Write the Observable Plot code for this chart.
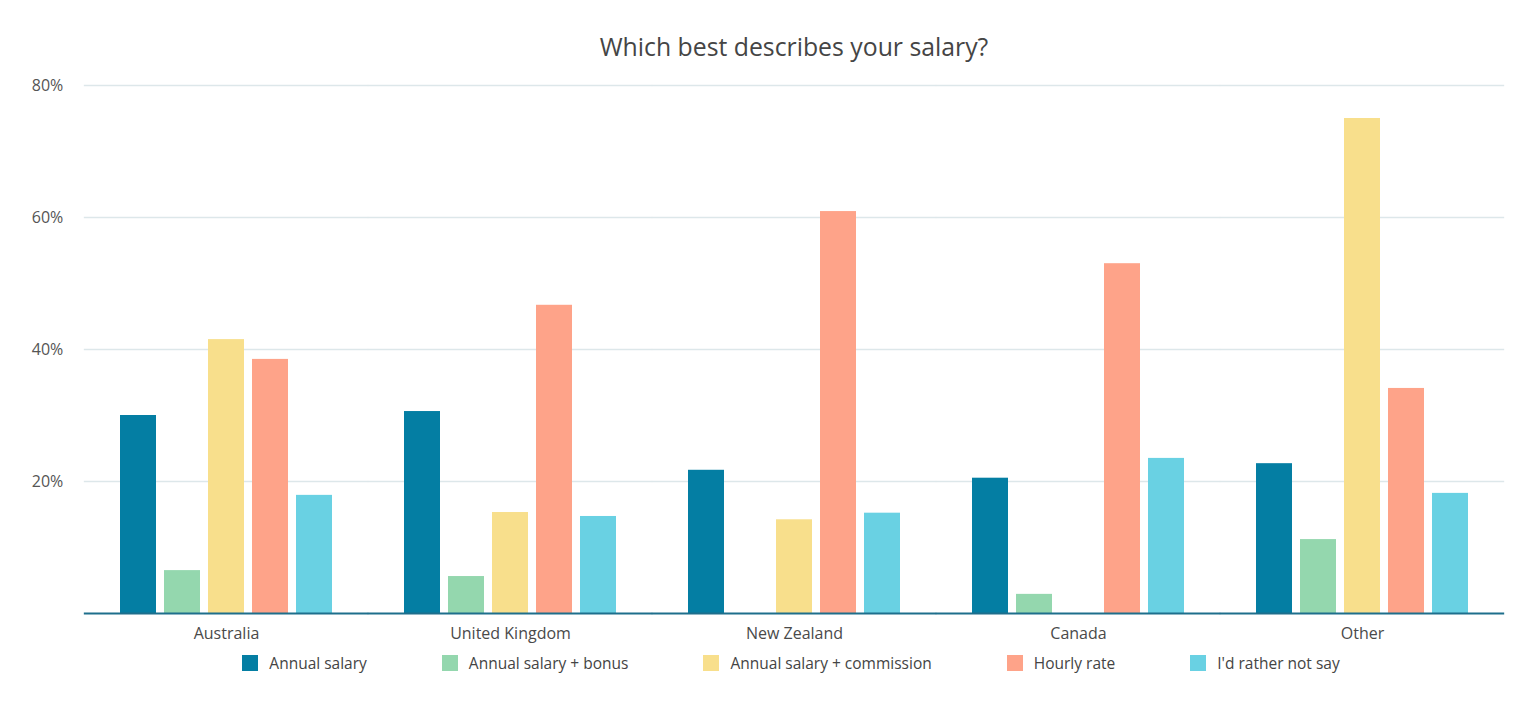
<!DOCTYPE html>
<html>
<head>
<meta charset="utf-8">
<script src="https://cdn.jsdelivr.net/npm/d3@7"></script>
<script src="https://cdn.jsdelivr.net/npm/@observablehq/plot@0.6"></script>
<style>
  html, body { margin: 0; padding: 0; background: #fff; }
  #wrap { position: relative; width: 1536px; height: 704px; font-family: "Open Sans", sans-serif; }
  #title { position: absolute; top: 30px; left: 83px; width: 1422px; text-align: center; font-size: 24.8px; line-height: 32px; color: #454545; }
  #chart { position: absolute; top: 70px; left: 0; }
  #legend { position: absolute; top: 650px; left: 80px; width: 1422px; display: flex; justify-content: center; gap: 75px; font-size: 15.5px; line-height: 26px; color: #444; }
  .item { display: flex; align-items: center; }
  .sw { width: 16px; height: 16px; margin-right: 11px; }
</style>
</head>
<body>
<div id="wrap">
  <div id="title">Which best describes your salary?</div>
  <div id="chart"></div>
  <div id="legend"></div>
</div>
<script>
const countries = ["Australia", "United Kingdom", "New Zealand", "Canada", "Other"];
const seriesNames = ["Annual salary", "Annual salary + bonus", "Annual salary + commission", "Hourly rate", "I'd rather not say"];
const seriesColors = ["#047ea3", "#94d7ae", "#f8df8c", "#fea389", "#69d1e3"];
const annualSalary = [30.0, 30.6, 21.7, 20.5, 22.7];
const annualSalaryBonus = [6.5, 5.6, 0, 2.9, 11.2];
const annualSalaryCommission = [41.5, 15.3, 14.2, 0, 75.0];
const hourlyRate = [38.5, 46.7, 60.9, 53.0, 34.1];
const ratherNotSay = [17.9, 14.7, 15.2, 23.5, 18.2];
const yTicks = [20, 40, 60, 80];

const seriesValues = [annualSalary, annualSalaryBonus, annualSalaryCommission, hourlyRate, ratherNotSay];
const data = countries.flatMap((c, i) => seriesNames.map((s, j) => ({country: c, series: s, value: seriesValues[j][i]})));

const W = 1536, mL = 83, mR = 31;
const fxInner = 0.245, fxOuter = 0.12;
const fxStep = (W - mL - mR) / (countries.length - fxInner + 2 * fxOuter);
const halfGap = fxStep * fxInner / 2;
const outerGap = fxStep * fxOuter;

const chart = Plot.plot({
  width: W,
  height: 583,
  marginLeft: mL,
  marginRight: mR,
  marginTop: 15,
  marginBottom: 40,
  style: {fontFamily: "'Open Sans', sans-serif", fontSize: "16px", color: "#555", background: "white"},
  fx: {domain: countries, paddingInner: fxInner, paddingOuter: fxOuter, label: null, axis: null},
  x: {domain: seriesNames, axis: null, paddingInner: 0.18, paddingOuter: 0},
  y: {domain: [0, 80], label: null},
  color: {domain: seriesNames, range: seriesColors},
  marks: [
    Plot.ruleY(yTicks, {stroke: "#dde7ea", strokeWidth: 1.5, insetLeft: -Math.max(halfGap, outerGap) - 0.3, insetRight: -Math.max(halfGap, outerGap) - 0.3}),
    Plot.barY(data, {fx: "country", x: "series", y: "value", fill: "series"}),
    Plot.ruleY([0], {stroke: "#1e6f8c", strokeWidth: 2, insetLeft: -Math.max(halfGap, outerGap) - 0.3, insetRight: -Math.max(halfGap, outerGap) - 0.3}),
    Plot.axisY(yTicks, {tickSize: 0, tickPadding: 22 + outerGap, tickFormat: d => d + "%", label: null, fontSize: 16, color: "#555"}),
    Plot.axisFx({anchor: "bottom", tickSize: 0, tickPadding: 14, label: null, fontSize: 16, color: "#4a4a4a"})
  ]
});
document.getElementById("chart").appendChild(chart);

const legend = document.getElementById("legend");
seriesNames.forEach((s, j) => {
  const it = document.createElement("div");
  it.className = "item";
  const sw = document.createElement("span");
  sw.className = "sw";
  sw.style.background = seriesColors[j];
  const t = document.createElement("span");
  t.textContent = s;
  it.appendChild(sw); it.appendChild(t);
  legend.appendChild(it);
});
</script>
</body>
</html>
